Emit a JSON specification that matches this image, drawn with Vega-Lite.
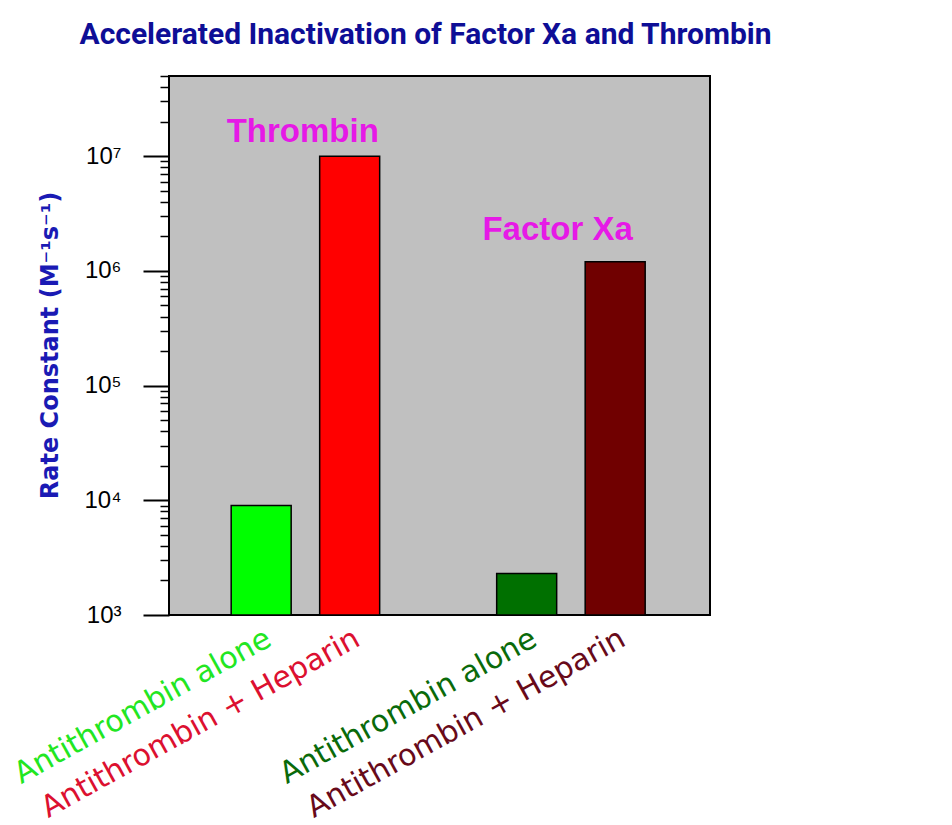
{
  "$schema": "https://vega.github.io/schema/vega-lite/v6.json",
  "width": 541,
  "height": 539,
  "autosize": "none",
  "padding": {"left": 169, "top": 76, "right": 242, "bottom": 210},
  "background": "white",
  "config": {
    "view": {"fill": "#c0c0c0", "stroke": "#000000", "strokeWidth": 2}
  },
  "title": {
    "text": "Accelerated Inactivation of Factor Xa and Thrombin",
    "font": "Roboto, Liberation Sans, sans-serif",
    "fontSize": 30,
    "fontWeight": "bold",
    "color": "#0e0e96",
    "anchor": "middle",
    "frame": "group",
    "baseline": "alphabetic",
    "offset": 32,
    "dy": 31,
    "dx": -14
  },
  "resolve": {"axis": {"x": "independent", "y": "independent"}},
  "layer": [
    {
      "data": {
        "values": [
          {"target": "Thrombin", "treatment": "Antithrombin alone", "slot": 1, "rate": 9000},
          {"target": "Thrombin", "treatment": "Antithrombin + Heparin", "slot": 2, "rate": 10000000},
          {"target": "Factor Xa", "treatment": "Antithrombin alone", "slot": 4, "rate": 2300},
          {"target": "Factor Xa", "treatment": "Antithrombin + Heparin", "slot": 5, "rate": 1200000}
        ]
      },
      "transform": [
        {"calculate": "datum.target + '|' + datum.treatment", "as": "bar"}
      ],
      "mark": {"type": "bar", "width": 60, "stroke": "#000000", "strokeWidth": 1.5},
      "encoding": {
        "x": {
          "field": "slot",
          "type": "quantitative",
          "scale": {"domain": [0.015, 6.015], "nice": false, "zero": false},
          "axis": {
            "values": [1, 2, 4, 5],
            "title": null,
            "grid": false,
            "ticks": false,
            "domain": false,
            "labelAngle": -29,
            "labelAlign": "right",
            "labelBaseline": "top",
            "labelPadding": 8,
            "labelFont": "DejaVu Sans",
            "labelFontSize": 30,
            "labelLimit": 0,
            "labelOverlap": false,
            "labelExpr": "datum.value == 1 || datum.value == 4 ? 'Antithrombin alone' : 'Antithrombin + Heparin'",
            "labelColor": {
              "condition": [
                {"test": "datum.value == 1", "value": "#22e622"},
                {"test": "datum.value == 2", "value": "#dc1030"},
                {"test": "datum.value == 4", "value": "#0a6a0a"},
                {"test": "datum.value == 5", "value": "#680a1a"}
              ],
              "value": "#680a1a"
            }
          }
        },
        "y": {
          "field": "rate",
          "type": "quantitative",
          "scale": {"type": "log", "domain": [1000, 50000000], "nice": false},
          "axis": {
            "orient": "left",
            "values": [1000, 10000, 100000, 1000000, 10000000],
            "grid": false,
            "domain": false,
            "tickSize": 26,
            "tickWidth": 2,
            "tickColor": "#000000",
            "labelFont": "Liberation Sans",
            "labelFontSize": 24,
            "labelColor": "#000000",
            "labelPadding": 22,
            "labelBaseline": "middle",
            "labelExpr": "datum.value == 1000 ? '10³' : datum.value == 10000 ? '10⁴' : datum.value == 100000 ? '10⁵' : datum.value == 1000000 ? '10⁶' : '10⁷'",
            "title": "Rate Constant (M⁻¹s⁻¹)",
            "titleFont": "DejaVu Sans",
            "titleFontSize": 24,
            "titleFontWeight": "bold",
            "titleColor": "#1a1ab4",
            "titleAngle": -90,
            "titleX": -119,
            "titleY": 269,
            "titleAlign": "center",
            "titleBaseline": "middle"
          }
        },
        "y2": {"datum": 1000},
        "color": {
          "field": "bar",
          "type": "nominal",
          "scale": {
            "domain": ["Thrombin|Antithrombin alone", "Thrombin|Antithrombin + Heparin", "Factor Xa|Antithrombin alone", "Factor Xa|Antithrombin + Heparin"],
            "range": ["#00ff00", "#ff0000", "#007000", "#700000"]
          },
          "legend": null
        }
      }
    },
    {
      "data": {
        "values": [
          {"label": "Thrombin", "xpos": 1.47, "ypos": 13200000},
          {"label": "Factor Xa", "xpos": 4.35, "ypos": 1860000}
        ]
      },
      "mark": {
        "type": "text",
        "font": "Liberation Sans",
        "fontSize": 33,
        "fontWeight": "bold",
        "color": "#e619e6",
        "align": "center",
        "baseline": "alphabetic"
      },
      "encoding": {
        "text": {"field": "label"},
        "x": {
          "field": "xpos",
          "type": "quantitative",
          "scale": {"domain": [0.015, 6.015], "nice": false, "zero": false},
          "axis": null
        },
        "y": {
          "field": "ypos",
          "type": "quantitative",
          "scale": {"type": "log", "domain": [1000, 50000000], "nice": false},
          "axis": {
            "orient": "left",
            "values": [2000, 3000, 4000, 5000, 6000, 7000, 8000, 9000, 20000, 30000, 40000, 50000, 60000, 70000, 80000, 90000, 200000, 300000, 400000, 500000, 600000, 700000, 800000, 900000, 2000000, 3000000, 4000000, 5000000, 6000000, 7000000, 8000000, 9000000, 20000000, 30000000, 40000000, 50000000],
            "grid": false,
            "domain": false,
            "labels": false,
            "title": null,
            "tickSize": 9,
            "tickWidth": 1.5,
            "tickColor": "#000000"
          }
        }
      }
    }
  ]
}
